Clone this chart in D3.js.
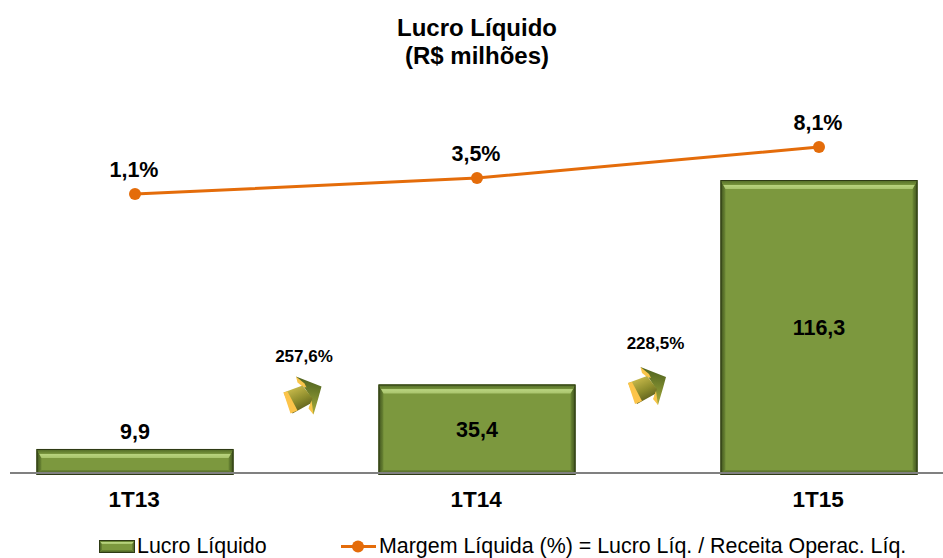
<!DOCTYPE html>
<html><head><meta charset="utf-8">
<script src="https://cdn.jsdelivr.net/npm/d3@7"></script>
<style>html,body{margin:0;padding:0;background:#fff}svg{display:block}text{font-family:"Liberation Sans",Arial,sans-serif;fill:#000}</style>
</head><body><svg id="c" width="943" height="558"></svg>
<script>
const categories = ["1T13","1T14","1T15"];
const lucro = [9.9,35.4,116.3];
const lucroLabels = ["9,9","35,4","116,3"];
const margem = [1.1,3.5,8.1];
const margemLabels = ["1,1%","3,5%","8,1%"];
const variacao = ["257,6%","228,5%"];
const titleLines = ["Lucro Líquido","(R$ milhões)"];
const legendBar = "Lucro Líquido";
const legendLine = "Margem Líquida (%) = Lucro Líq. / Receita Operac. Líq.";

const svg = d3.select("#c");
const x = d3.scaleBand().domain(categories).range([-36,990]).paddingInner(0.424).paddingOuter(0.212);
const y = d3.scaleLinear().domain([0,116.3]).range([474,180]);
const yM = d3.scaleLinear().domain([0,10]).range([201.5,134.3]);
const cx = c => x(c)+x.bandwidth()/2;

const defs = svg.append("defs");
function lg(id,stops,vert,x1,y1,x2,y2){
  const g=defs.append("linearGradient").attr("id",id).attr("x1",x1??0).attr("y1",y1??0).attr("x2",x2??(vert?0:1)).attr("y2",y2??(vert?1:0));
  stops.forEach(s=>g.append("stop").attr("offset",s[0]).attr("stop-color",s[1]));
}
lg("topB",[[0,"#4f6825"],[0.5,"#74913a"],[0.56,"#b9d47f"],[1,"#a8c46c"]],true);
lg("leftB",[[0,"#3d501c"],[1,"#6c8835"]],false);
lg("rightB",[[0,"#6c8835"],[1,"#3d501c"]],false);
lg("botB",[[0,"#6c8835"],[1,"#3d501c"]],true);
lg("arrBody",[[0,"#d6c452"],[0.55,"#8d8c2c"],[1,"#4f5219"]],true,0.2,0,0.7,1);
lg("arrHead",[[0,"#4a5f1e"],[1,"#a8ae3c"]],true,0.6,0,0.5,1);

function bevelBar(g,bx,by,w,h,b,tb){
  const poly=(pts,fill)=>g.append("polygon").attr("points",pts.map(p=>p.join(",")).join(" ")).attr("fill",fill);
  g.append("rect").attr("x",bx).attr("y",by).attr("width",w).attr("height",h).attr("fill","#7c983e");
  const r=bx+w,t=by+h;
  poly([[bx,by],[bx+b,by+tb],[bx+b,t-b],[bx,t]],"url(#leftB)");
  poly([[r,by],[r-b,by+tb],[r-b,t-b],[r,t]],"url(#rightB)");
  poly([[bx,by],[r,by],[r-b,by+tb],[bx+b,by+tb]],"url(#topB)");
  poly([[bx,t],[bx+b,t-b],[r-b,t-b],[r,t]],"url(#botB)");
  g.append("rect").attr("x",bx+.5).attr("y",by+.5).attr("width",w-1).attr("height",h-1).attr("fill","none").attr("stroke","#2e3a15").attr("stroke-width",1);
}

// title
svg.append("g").selectAll("text").data(titleLines).join("text")
  .attr("x",477).attr("y",(d,i)=>35.5+i*28.5).attr("text-anchor","middle")
  .attr("font-size",24).attr("font-weight","bold").text(d=>d);

// bars
categories.forEach((c,i)=>{
  bevelBar(svg.append("g"),x(c),y(lucro[i]),x.bandwidth(),y(0)-y(lucro[i])+1,5,9);
});

// axis
const axis = d3.axisBottom(x).tickSize(0).tickPadding(18);
const ax = svg.append("g").attr("transform","translate(0,473)").call(axis);
ax.select(".domain").remove();
ax.append("line").attr("x1",10).attr("x2",943).attr("y1",0).attr("y2",0).attr("stroke","#808080").attr("stroke-width",2);
ax.selectAll(".tick text").attr("font-size",22.5).attr("font-weight","bold").attr("dx",-0.8).attr("font-family","'Liberation Sans',Arial,sans-serif").attr("fill","#000");

// bar labels
svg.append("g").selectAll("text").data(categories).join("text")
  .attr("x",cx).attr("text-anchor","middle").attr("font-size",21.5).attr("font-weight","bold")
  .attr("y",(c,i)=> i===0 ? y(lucro[i])-10 : (y(lucro[i])+y(0))/2+8)
  .text((c,i)=>lucroLabels[i]);

// line
const line = d3.line().x((d,i)=>cx(categories[i])).y(d=>yM(d));
svg.append("path").attr("d",line(margem)).attr("fill","none").attr("stroke","#e46c0a").attr("stroke-width",3);
svg.append("g").selectAll("circle").data(margem).join("circle")
  .attr("cx",(d,i)=>cx(categories[i])).attr("cy",d=>yM(d)).attr("r",6).attr("fill","#e46c0a");
svg.append("g").selectAll("text").data(margem).join("text")
  .attr("x",(d,i)=>cx(categories[i])-1).attr("y",d=>yM(d)-17).attr("text-anchor","middle")
  .attr("font-size",21.5).attr("font-weight","bold").text((d,i)=>margemLabels[i]);

// growth arrows
const arrowAt = [[302.5,395.5],[647,386]];
const labelAt = [[304,362],[655.5,349]];
const arrowParts = [
  ["url(#arrHead)",[[-6.5,-19],[19,-9],[16,2],[11,19],[7,12],[9,3],[0,-11]]],
  ["#f9c54a",[[-6.5,-19],[2,-12],[4,-8],[0,-9],[-5,-13]]],
  ["url(#arrBody)",[[-19,-3],[0,-10],[10,3],[8,8],[-10,18]]],
  ["#fcc44a",[[-19,-3],[-15,-4],[-5,15],[-12,18]]],
  ["#f9c54a",[[6,13],[9,5],[11,19]]]
];
arrowAt.forEach((a,i)=>{
  const g=svg.append("g").attr("transform",`translate(${a[0]},${a[1]})`);
  arrowParts.forEach(p=>g.append("polygon").attr("points",p[1].map(q=>q.join(",")).join(" ")).attr("fill",p[0]));
  svg.append("text").attr("x",labelAt[i][0]).attr("y",labelAt[i][1]).attr("text-anchor","middle")
    .attr("font-size",17).attr("font-weight","bold").text(variacao[i]);
});

// legend
bevelBar(svg.append("g"),99,540,36,13,3,4);
svg.append("text").attr("x",137).attr("y",553).attr("font-size",21.4).text(legendBar);
svg.append("line").attr("x1",341).attr("x2",376).attr("y1",546.5).attr("y2",546.5).attr("stroke","#e46c0a").attr("stroke-width",3);
svg.append("circle").attr("cx",358).attr("cy",546.5).attr("r",6).attr("fill","#e46c0a");
svg.append("text").attr("x",379).attr("y",553).attr("font-size",21.4).text(legendLine);
</script></body></html>
